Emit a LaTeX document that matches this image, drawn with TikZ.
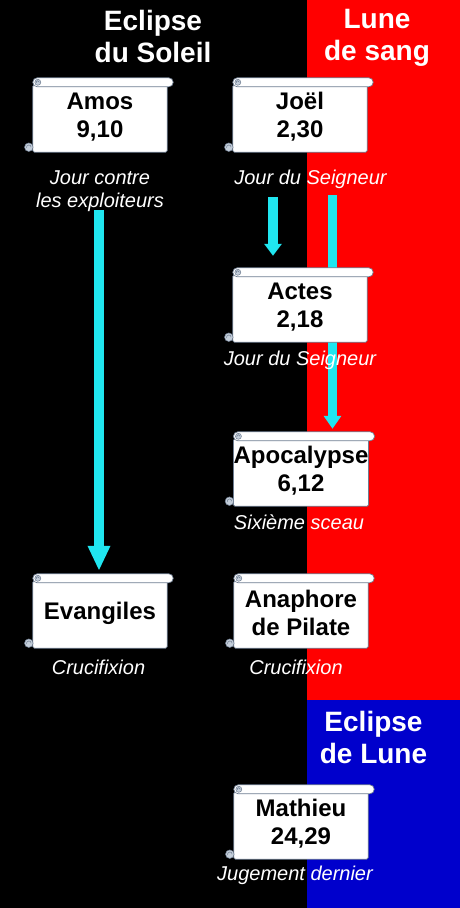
\documentclass[tikz,border=0pt]{standalone}
\usepackage{fontspec}
\setmainfont{Liberation Sans}
\usetikzlibrary{arrows.meta}
\pgfdeclarelayer{panels}
\pgfdeclarelayer{arrowlayer}
\pgfdeclarelayer{scrollbg}
\pgfsetlayers{panels,arrowlayer,scrollbg,main}
\definecolor{cyanarr}{RGB}{32,230,240}
\definecolor{bluepanel}{RGB}{0,0,204}
\definecolor{scrollline}{RGB}{110,125,145}
\definecolor{curlfill}{RGB}{196,206,218}
\tikzset{
 scroll/.style={minimum width=134pt, minimum height=74pt, inner sep=0pt, align=center, font=\fontsize{24}{28}\selectfont\bfseries, text=black},
 lab/.style={text=white, font=\fontsize{20}{23}\selectfont\itshape, align=center, inner sep=2pt},
 head/.style={text=white, font=\fontsize{28}{32}\selectfont\bfseries, align=center, inner sep=0pt},
 arr/.style={draw=cyanarr, line width=9.5pt},
}
% the scroll node centre sits 2pt below the centre of the drawn scroll
\newcommand\drawscroll[1]{%
 \begin{pgfonlayer}{scrollbg}
  \filldraw[fill=white, draw=scrollline, line width=0.7pt, rounded corners=1.5pt] ([yshift=-5pt]#1.north west) rectangle ([yshift=2pt]#1.south east);
  \filldraw[fill=white, draw=scrollline, line width=0.7pt, rounded corners=4.4pt] ([yshift=2pt]#1.north west) rectangle ([xshift=6pt,yshift=-7pt]#1.north east);
  \filldraw[fill=curlfill, draw=scrollline, line width=0.5pt] ([xshift=5pt,yshift=-2.5pt]#1.north west) circle (3pt);
  \draw[scrollline, line width=0.5pt] ([xshift=5pt,yshift=-2.5pt]#1.north west) ++(1.6pt,0) arc[start angle=0, end angle=200, radius=1.6pt];
  \filldraw[fill=curlfill, draw=scrollline, line width=0.5pt] ([xshift=-4pt,yshift=7pt]#1.south west) circle (4.3pt);
  \draw[scrollline, line width=0.5pt] ([xshift=-4pt,yshift=7pt]#1.south west) ++(2.3pt,0) arc[start angle=0, end angle=200, radius=2.3pt];
 \end{pgfonlayer}}
\begin{document}
\begin{tikzpicture}[x=1pt,y=-1pt]
\useasboundingbox (0,0) rectangle (460,908);
\begin{pgfonlayer}{panels}
\fill[black] (0,0) rectangle (460,908);
\fill[red] (307,0) rectangle (460,700);
\fill[bluepanel] (307,700) rectangle (460,908);
\end{pgfonlayer}
% headers
\node[head, anchor=base] (h1) at (153,62) {Eclipse\\du Soleil};
\node[head, anchor=base] (h2) at (377,60) {Lune\\de sang};
\node[head, anchor=base] (h3) at (373.5,763) {Eclipse\\de Lune};
% scrolls
\node[scroll] (amos) at (100,117) {Amos\\9,10};
\node[scroll] (joel) at (300,117) {Joël\\2,30};
\node[scroll] (actes) at (300,307) {Actes\\2,18};
\node[scroll] (apoc) at (301,471) {Apocalypse\\6,12};
\node[scroll] (evang) at (100,613) {Evangiles};
\node[scroll] (anaph) at (301,613) {Anaphore\\de Pilate};
\node[scroll] (mathieu) at (301,824) {Mathieu\\24,29};
\drawscroll{amos}\drawscroll{joel}\drawscroll{actes}\drawscroll{apoc}
\drawscroll{evang}\drawscroll{anaph}\drawscroll{mathieu}
% labels
\node[lab, anchor=base] (l1) at (100,207) {Jour contre\\les exploiteurs};
\node[lab, anchor=base] (l2) at (310.5,184) {Jour du Seigneur};
\node[lab, anchor=base] (l3) at (300,365) {Jour du Seigneur};
\node[lab, anchor=base] (l4) at (299,529) {Sixième sceau};
\node[lab, anchor=base] (l5) at (98.5,674) {Crucifixion};
\node[lab, anchor=base] (l6) at (296,674) {Crucifixion};
\node[lab, anchor=base] (l7) at (295,880) {Jugement dernier};
% arrows
\coordinate (xa) at (99,0);
\coordinate (xb) at (273,0);
\coordinate (xc) at (332.5,0);
\begin{pgfonlayer}{arrowlayer}
\draw[arr, -{Triangle[length=25pt,width=21pt]}, shorten <=-3pt, shorten >=5pt] (l1.south -| xa) -- (evang.north -| xa);
\draw[arr, -{Triangle[length=12pt,width=17pt]}, shorten <=7pt, shorten >=14pt] (l2.south -| xb) -- (actes.north -| xb);
\draw[arr, -{Triangle[length=13pt,width=17pt]}, shorten <=5pt, shorten >=5pt] (l2.south -| xc) -- (apoc.north -| xc);
\end{pgfonlayer}
\end{tikzpicture}
\end{document}
